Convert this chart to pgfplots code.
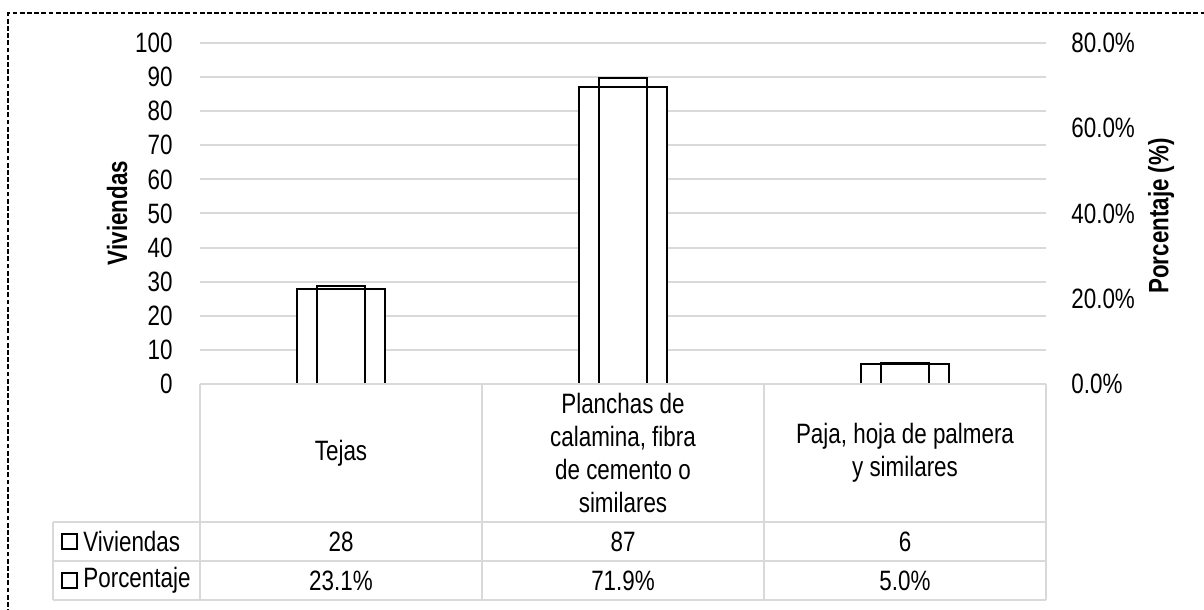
\documentclass[border=0pt]{standalone}
\usepackage{fontspec}
\setmainfont{Liberation Sans}[FakeStretch=0.8]
\usepackage{pgfplots}
\pgfplotsset{compat=1.18}
\definecolor{gridgray}{HTML}{D9D9D9}
\newcommand{\tf}{\fontsize{14}{16.5}\selectfont}
\begin{document}
\begin{tikzpicture}
% primary axis (Viviendas)
\begin{axis}[
  at={(100pt,113pt)}, anchor=south west,
  scale only axis, width=423pt, height=170.5pt,
  xmin=-0.5, xmax=2.5, ymin=0, ymax=100,
  xtick=\empty, ytick={0,10,...,100},
  axis line style={draw=none},
  major tick length=0pt,
  ymajorgrids, grid style={color=gridgray, line width=1pt},
  yticklabel style={font=\tf, inner sep=0pt, anchor=east, xshift=-13.5pt},
  /pgf/number format/assume math mode=true,
  clip=false,
]
\addplot[ybar, bar width=44pt, fill=white, draw=black, line width=1pt] coordinates {(0,28) (1,87) (2,6)};
\end{axis}
% secondary axis (Porcentaje)
\begin{axis}[
  at={(100pt,113pt)}, anchor=south west,
  scale only axis, width=423pt, height=170.5pt,
  xmin=-0.5, xmax=2.5, ymin=0, ymax=80,
  xtick=\empty, ytick={0,20,40,60,80},
  yticklabels={0.0\%,20.0\%,40.0\%,60.0\%,80.0\%},
  yticklabel pos=right,
  axis line style={draw=none},
  major tick length=0pt,
  yticklabel style={font=\tf, inner sep=0pt, anchor=west, xshift=12.5pt},
  clip=false,
]
\addplot[ybar, bar width=24pt, fill=none, draw=black, line width=1pt] coordinates {(0,23.1) (1,71.9) (2,5.0)};
\end{axis}
% axis titles
\node[rotate=90, font=\fontsize{14}{16}\selectfont\bfseries] at (58.5pt,198.5pt) {Viviendas};
\node[rotate=90, font=\fontsize{14}{16}\selectfont\bfseries] at (580.5pt,197pt) {Porcentaje (\%)};
% data table grid
\begin{scope}[draw=gridgray, line width=1pt]
\draw (100pt,113pt) -- (523pt,113pt);
\draw (26.5pt,44pt) -- (523pt,44pt);
\draw (26.5pt,24.5pt) -- (523pt,24.5pt);
\draw (26.5pt,5pt) -- (523pt,5pt);
\draw (26.5pt,44pt) -- (26.5pt,5pt);
\draw (100pt,113pt) -- (100pt,5pt);
\draw (241pt,113pt) -- (241pt,5pt);
\draw (382pt,113pt) -- (382pt,5pt);
\draw (523pt,113pt) -- (523pt,5pt);
\end{scope}
% header labels
\node[font=\tf, align=center] at (170.5pt,78.5pt) {Tejas};
\node[font=\tf, align=center] at (311.5pt,78.5pt) {Planchas de\\calamina, fibra\\de cemento o\\similares};
\node[font=\tf, align=center] at (452.5pt,78.5pt) {Paja, hoja de palmera\\y similares};
% rows
\draw[black, line width=0.65pt] (31pt,30.5pt) rectangle (38.5pt,38pt);
\draw[black, line width=0.65pt] (31pt,11pt) rectangle (38.5pt,18.5pt);
\node[font=\tf, anchor=west, inner sep=0pt] at (41.5pt,34.25pt) {Viviendas};
\node[font=\tf, anchor=west, inner sep=0pt] at (41.5pt,14.75pt) {Porcentaje};
\node[font=\tf] at (170.5pt,34.25pt) {28};
\node[font=\tf] at (311.5pt,34.25pt) {87};
\node[font=\tf] at (452.5pt,34.25pt) {6};
\node[font=\tf] at (170.5pt,14.75pt) {23.1\%};
\node[font=\tf] at (311.5pt,14.75pt) {71.9\%};
\node[font=\tf] at (452.5pt,14.75pt) {5.0\%};
% dashed frame
\draw[black, line width=1pt, dash pattern=on 2.4pt off 1.2pt] (4.2pt,-20pt) -- (4.2pt,298.3pt) -- (620pt,298.3pt);
\pgfresetboundingbox
\useasboundingbox (0,0) rectangle (602pt,305pt);
\end{tikzpicture}
\end{document}
